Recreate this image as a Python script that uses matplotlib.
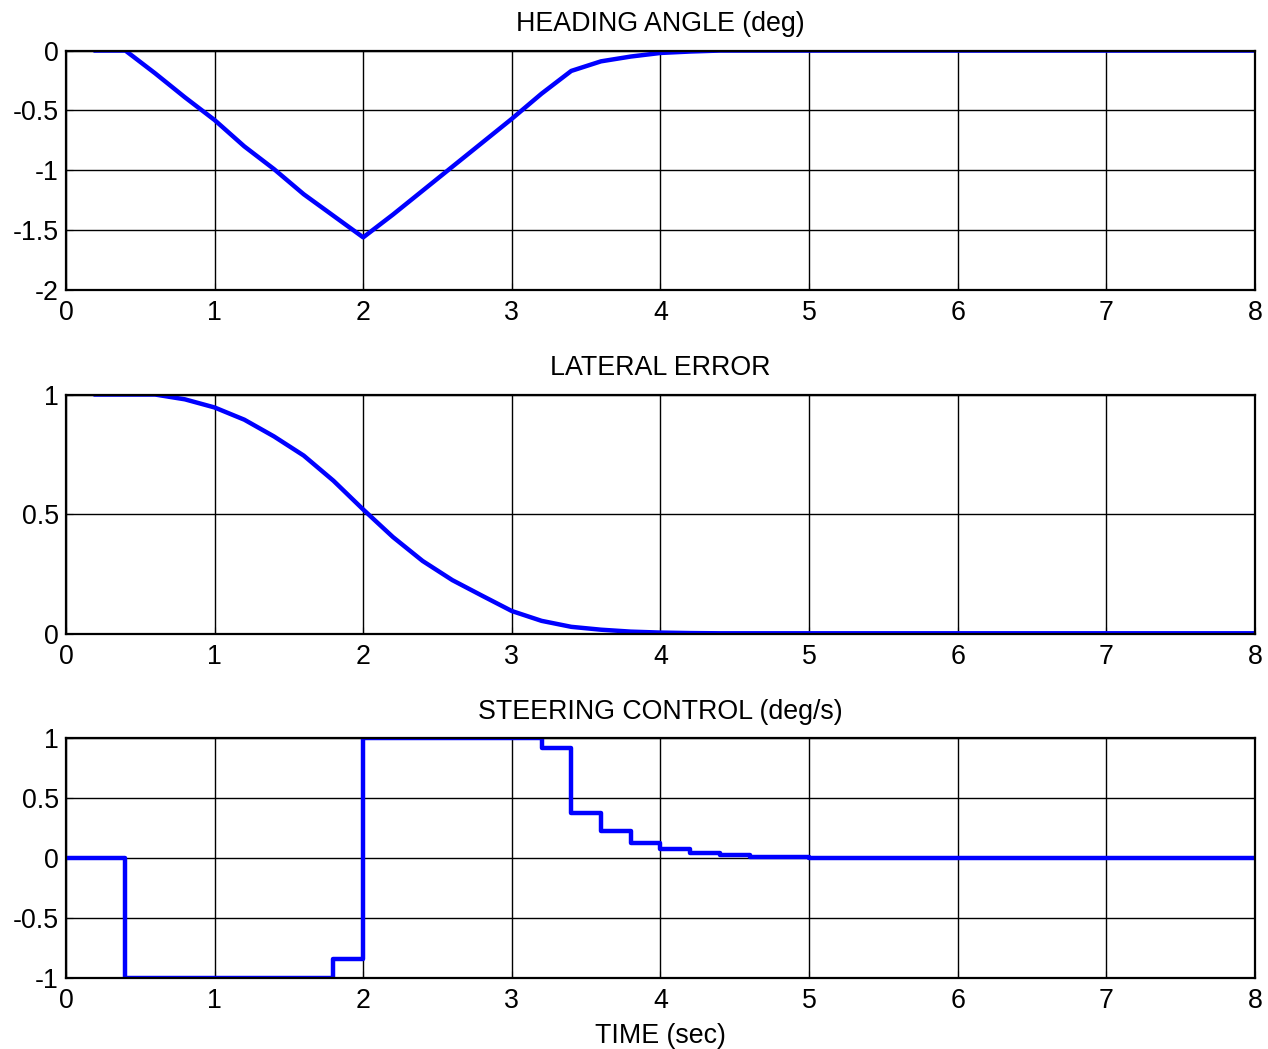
import matplotlib
matplotlib.use("Agg")
import matplotlib.pyplot as plt
import numpy as np

plt.rcParams['font.family'] = ['Liberation Sans', 'DejaVu Sans']
plt.rcParams['axes.unicode_minus'] = False
FS = 19.3

# 時間軸
t = [0.2, 0.4, 0.6, 0.8, 1.0, 1.2, 1.4, 1.6, 1.8, 2.0, 2.2, 2.4, 2.6, 2.8,
     3.0, 3.2, 3.4, 3.6, 3.8, 4.0, 4.2, 4.4, 5.0, 6.0, 7.0, 8.0]

# 方位角 (deg)
heading = [0, 0, -0.19, -0.39, -0.58, -0.8, -0.99, -1.2, -1.38, -1.56,
           -1.37, -1.17, -0.97, -0.77, -0.57, -0.36, -0.17, -0.09, -0.05,
           -0.02, -0.008, 0, 0, 0, 0, 0]

# 横方向誤差
lateral = [1.0, 1.0, 1.0, 0.98, 0.946, 0.895, 0.825, 0.745, 0.64, 0.52,
           0.405, 0.305, 0.225, 0.16, 0.096, 0.055, 0.03, 0.018, 0.01, 0.006,
           0.004, 0.003, 0.003, 0.003, 0.003, 0.003]

# 操舵入力 (deg/s) -- ステップ
t_steer = [0.0, 0.4, 0.6, 0.8, 1.0, 1.2, 1.4, 1.6, 1.8, 2.0, 2.2, 2.4, 2.6,
           2.8, 3.0, 3.2, 3.4, 3.6, 3.8, 4.0, 4.2, 4.4, 4.6, 4.8, 5.0, 8.0]
steer = [0, -1, -1, -1, -1, -1, -1, -1, -0.84, 1, 1, 1, 1, 1, 1, 0.92, 0.38,
         0.23, 0.125, 0.08, 0.045, 0.025, 0.013, 0.013, 0, 0]

fig = plt.figure(figsize=(12.68, 10.49), dpi=100)
L, W, H = 0.052, 0.9377, 0.2283
ax1 = fig.add_axes([L, 0.7235, W, H])
ax2 = fig.add_axes([L, 0.3956, W, H])
ax3 = fig.add_axes([L, 0.0677, W, H])

ax1.plot(t, heading, color='#0000ff', lw=3.2)
ax2.plot(t, lateral, color='#0000ff', lw=3.2)
ax3.step(t_steer, steer, where='post', color='#0000ff', lw=3.2)

ax1.set_ylim(-2, 0)
ax1.set_yticks([-2, -1.5, -1, -0.5, 0])
ax1.set_yticklabels(['-2', '-1.5', '-1', '-0.5', '0'])
ax2.set_ylim(0, 1)
ax2.set_yticks([0, 0.5, 1])
ax2.set_yticklabels(['0', '0.5', '1'])
ax3.set_ylim(-1, 1)
ax3.set_yticks([-1, -0.5, 0, 0.5, 1])
ax3.set_yticklabels(['-1', '-0.5', '0', '0.5', '1'])

titles = ['HEADING ANGLE (deg)', 'LATERAL ERROR', 'STEERING CONTROL (deg/s)']
for ax, ttl in zip([ax1, ax2, ax3], titles):
    ax.set_xlim(0, 8)
    ax.set_xticks(range(9))
    ax.grid(True, color='black', lw=1.0)
    ax.set_axisbelow(True)
    ax.tick_params(axis='y', pad=5)
    ax.tick_params(direction='in', length=5, width=0.8, labelsize=FS)
    ax.tick_params(axis='x', pad=7)
    for s in ax.spines.values():
        s.set_linewidth(1.6)
    ax.set_title(ttl, fontsize=FS, pad=14)

ax3.set_xlabel('TIME (sec)', fontsize=FS, labelpad=7)

fig.savefig('out.png', dpi=100)
